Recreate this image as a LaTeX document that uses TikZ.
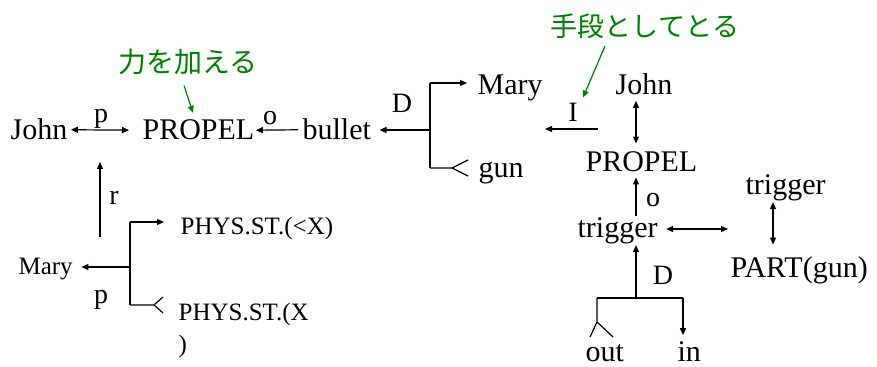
\documentclass[tikz,border=0pt]{standalone}
\usepackage{fontspec}
\setmainfont{Liberation Serif}
\newfontfamily\jpfont{Noto Sans CJK JP}
\usepackage{tikz}
\usetikzlibrary{calc,arrows.meta}
\definecolor{notegreen}{RGB}{0,128,0}

\begin{document}
\begin{tikzpicture}[x=0.5pt,y=-0.5pt,line width=0.6pt,>={Triangle[length=3.5pt,width=3pt]},
	word/.style={inner sep=0pt,anchor=base west,font=\fontsize{15pt}{18pt}\selectfont},
	smallword/.style={inner sep=0pt,anchor=base west,font=\fontsize{12.5pt}{16pt}\selectfont},
	rel/.style={inner sep=0pt,anchor=base,font=\fontsize{14pt}{16pt}\selectfont},
	jpnote/.style={inner sep=0pt,text=notegreen,font=\jpfont\fontsize{14pt}{16pt}\selectfont},
	note/.style={->,notegreen}]
			\useasboundingbox (0,0) rectangle (877,367);
			
			\node[word] (john1) at (10,140) {John};
			\node[word] (propel1) at (142,140) {PROPEL};
			\node[word] (bullet) at (302,140) {bullet};
			\node[word] (mary2) at (477,95) {Mary};
			\node[word] (gun) at (478,178) {gun};
			\node[word] (john3) at (615,95) {John};
			\node[word] (propel3) at (585,172) {PROPEL};
			\node[word] (trigger4) at (577,238) {trigger};
			\node[word] (trigger5) at (745,195) {trigger};
			\node[word] (partgun) at (730,278) {PART(gun)};
			\node[word] (outword) at (585,362) {out};
			\node[word] (inword) at (677,362) {in};
			\node[smallword] (mary1) at (18,275) {Mary};
			\node[smallword] (phys1) at (180,235) {PHYS.ST.(<X)};
			\node[smallword,anchor=north west,align=left] (phys2) at (178,303) {PHYS.ST.(X\\)};
			
			\node[rel] (p1) at (101,123) {p};
			\node[rel] (o1) at (270,125) {o};
			\node[rel] (d1) at (402,113) {D};
			\node[rel] (i1) at (573,122) {I};
			\node[rel] (o2) at (653,207) {o};
			\node[rel] (d2) at (663,285) {D};
			\node[rel] (r1) at (114,205) {r};
			\node[rel] (p2) at (101,304) {p};
			
			\node[jpnote] (force) at (188,62) {力を加える};
			\node[jpnote,font=\jpfont\fontsize{13.5pt}{16pt}\selectfont] (means) at (645,26) {手段としてとる};
			
			\coordinate (axis3) at (636,0);
			\coordinate (axis5) at (773,0);
			\coordinate (dtop) at (430,83);
			\coordinate (dfork) at (430,130);
			\coordinate (dbot) at (430,168);
			\coordinate (itail) at (598,129);
			\coordinate (ihead) at (545,129);
			\coordinate (partlink) at (728,229);
			\coordinate (dbar) at (636,298);
			\coordinate (outbr) at (597,298);
			\coordinate (inbr) at (683,298);
			\coordinate (rfoot) at (100,237);
			\coordinate (rtip) at (100,162);
			\coordinate (mtop) at (130,222);
			\coordinate (mfork) at (130,267);
			\coordinate (mbot) at (130,305);
			
			\draw[<->,shorten <=1.5pt,shorten >=6.5pt] (john1.east) -- (propel1.west);
			\draw[->,shorten <=2pt,shorten >=0.5pt] (bullet.west) -- (propel1.east);
			\draw[->,shorten >=4pt] (dfork) -- (dfork -| bullet.east);
			\draw (dtop) -- (dbot);
			\draw[->,shorten >=5pt] (dtop) -- (dtop -| mary2.west);
			\draw (dbot) -- ++(22,0) coordinate (dgun) -- ++(16,-8) (dgun) -- ++(16,8);
			\draw[->] (itail) -- (ihead);
			
			\draw[note] ($(force.south)+(-4,10)$) -- ($(propel1.north)+(-5.5,-6.7)$);
			\draw[note] ($(means.south)+(-40,7)$) -- ($(i1.north)+(10,-5.5)$);
			
			\draw[<->,shorten <=2.5pt,shorten >=4pt] (john3.south -| axis3) -- (propel3.north -| axis3);
			\draw[->,shorten <=1pt,shorten >=2.3pt] (trigger4.north -| axis3) -- (propel3.south -| axis3);
			\draw[<->,shorten <=4pt] (partlink -| trigger4.east) -- (partlink);
			\draw[<->,shorten >=6pt] (trigger5.south -| axis5) -- (partgun.north -| axis5);
			\draw[->] (dbar) -- (trigger4.south -| axis3);
			\draw (outbr) -- (inbr);
			\draw (outbr) -- ++(0,24) coordinate (outfork) -- ++(-7,15) (outfork) -- ++(16,15);
			\draw[->,shorten >=3.2pt] (inbr) -- (inbr |- inword.north);
			
			\draw[->] (rfoot) -- (rtip);
			\draw (mtop) -- (mbot);
			\draw[->,shorten >=4pt] (mfork) -- (mfork -| mary1.east);
			\draw[->,shorten >=8pt] (mtop) -- (mtop -| phys1.west);
			\draw (mbot) -- ++(24,0) coordinate (mphys) -- ++(9,-8) (mphys) -- ++(9,8);
		\end{tikzpicture}
\end{document}
